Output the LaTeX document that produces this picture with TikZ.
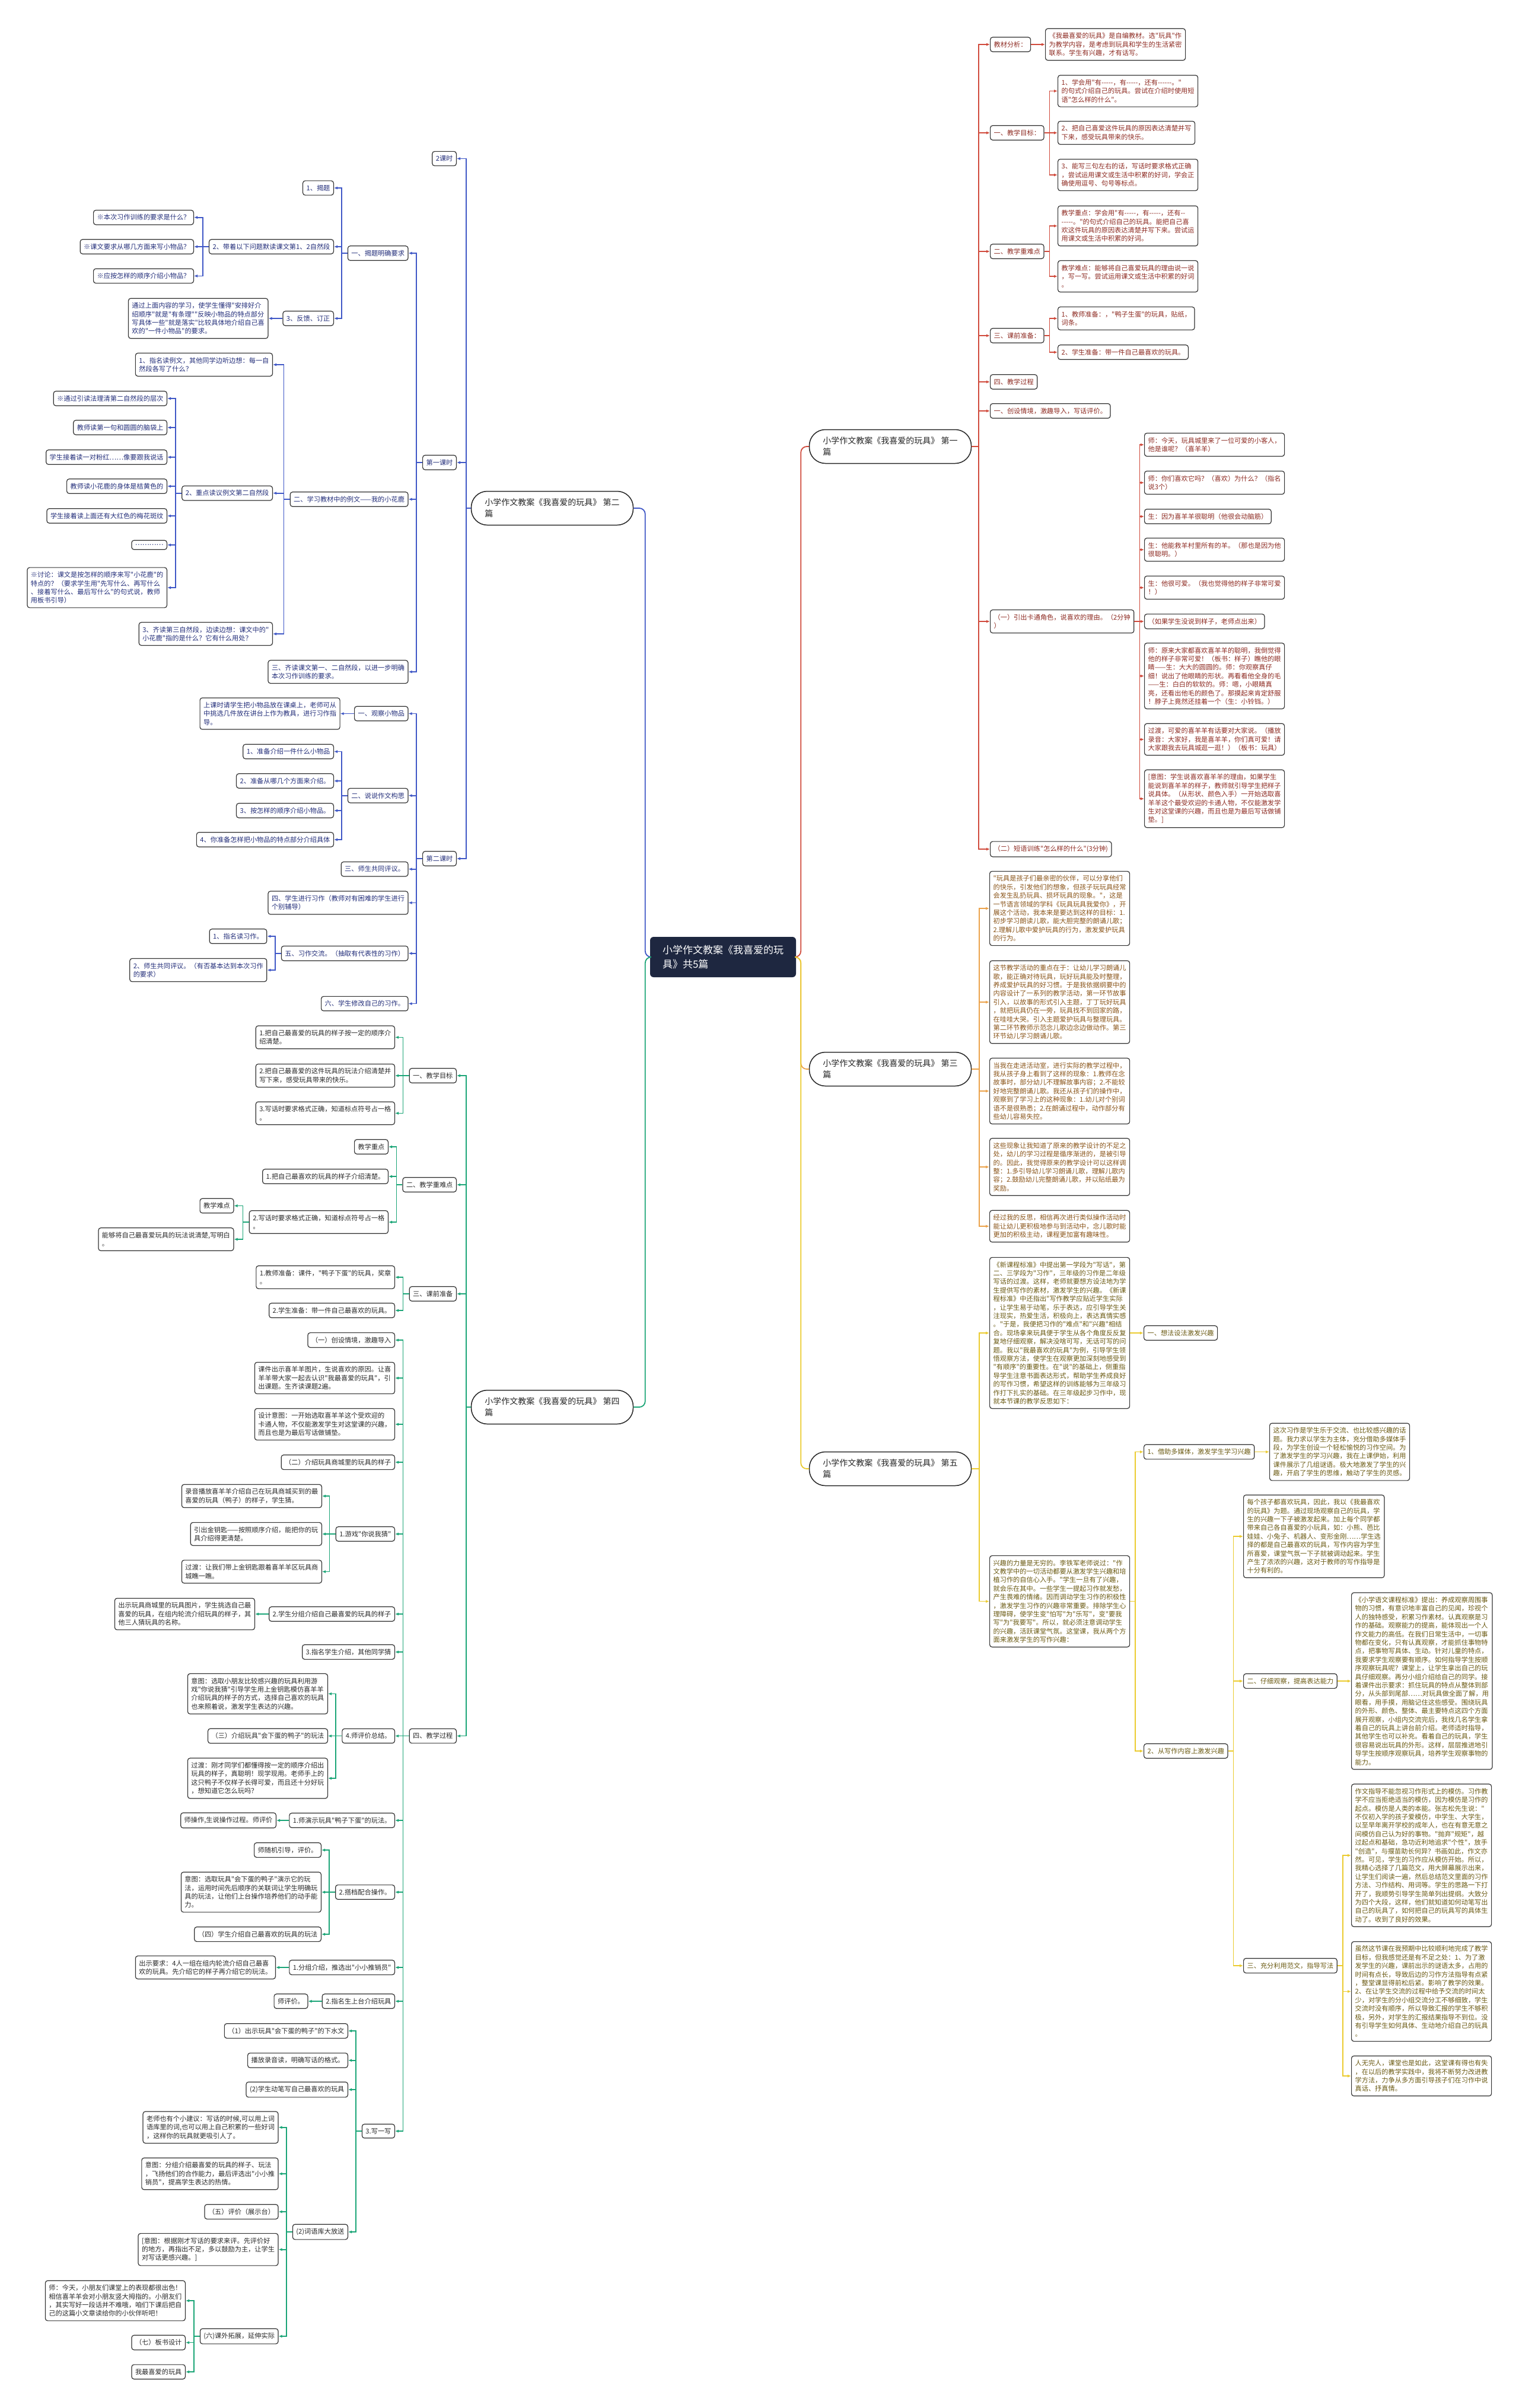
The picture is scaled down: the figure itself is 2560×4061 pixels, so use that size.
\documentclass[tikz,border=0pt]{standalone}
\usepackage{fontspec}
\newfontfamily\cjk{Noto Sans CJK SC}
\usetikzlibrary{positioning,arrows.meta}
\definecolor{rootfill}{HTML}{1E2740}
\definecolor{redline}{HTML}{D04A3C}
\definecolor{redtext}{HTML}{8E2B22}
\definecolor{blueline}{HTML}{3F57C6}
\definecolor{bluetext}{HTML}{232E7A}
\definecolor{orgline}{HTML}{EBA24A}
\definecolor{orgtext}{HTML}{8A5418}
\definecolor{grnline}{HTML}{1BA577}
\definecolor{grntext}{HTML}{2A2A2A}
\definecolor{ylwline}{HTML}{EBCB2F}
\definecolor{ylwtext}{HTML}{6B5A12}

\begin{document}
\begin{tikzpicture}[
  x=1pt, y=-1pt,
  tbox/.style={draw=black!80, line width=1.2pt, rounded corners=4pt, fill=white, align=left,
    inner xsep=6pt, inner ysep=7pt, font=\cjk\fontsize{11.2}{14.4}\selectfont},
  redbox/.style={tbox, text=redtext},
  bluebox/.style={tbox, text=bluetext},
  orgbox/.style={tbox, text=orgtext},
  grnbox/.style={tbox, text=grntext},
  ylwbox/.style={tbox, text=ylwtext},
  ln/.style={line width=1.6pt, -{Latex[length=6pt,width=5pt]}},
  redln/.style={ln, draw=redline},
  blueln/.style={ln, draw=blueline},
  orgln/.style={ln, draw=orgline},
  grnln/.style={ln, draw=grnline},
  ylwln/.style={ln, draw=ylwline},
  branchbox/.style={draw=black!85, line width=1.5pt, rounded corners=27pt, fill=white,
    minimum width=273pt, minimum height=57pt, align=left, text=black!85,
    font=\cjk\fontsize{14}{19}\selectfont},
  rootbox/.style={fill=rootfill, text=white, rounded corners=6pt, minimum width=246pt,
    minimum height=68pt, align=left, font=\cjk\fontsize{17}{24}\selectfont},
  trunk/.style={line width=1.8pt, rounded corners=10pt}
]
\fill[white] (0,0) rectangle (2560,4061);
\useasboundingbox (0,0) rectangle (2560,4061);

% centre and the five parts
\node[rootbox] (root) at (1219,1614) {小学作文教案《我喜爱的玩\\具》共5篇};
\node[branchbox] (p1) at (1501,753) {小学作文教案《我喜爱的玩具》 第一\\篇};
\node[branchbox] (p2) at (931,857) {小学作文教案《我喜爱的玩具》 第二\\篇};
\node[branchbox] (p3) at (1501,1803) {小学作文教案《我喜爱的玩具》 第三\\篇};
\node[branchbox] (p4) at (931,2373) {小学作文教案《我喜爱的玩具》 第四\\篇};
\node[branchbox] (p5) at (1501,2477) {小学作文教案《我喜爱的玩具》 第五\\篇};
\draw[trunk, draw=redline] (root.east) -- ++(8,0) |- (p1.west);
\draw[trunk, draw=orgline] (root.east) -- ++(8,0) |- (p3.west);
\draw[trunk, draw=ylwline] (root.east) -- ++(8,0) |- (p5.west);
\draw[trunk, draw=blueline] (root.west) -- ++(-8,0) |- (p2.east);
\draw[trunk, draw=grnline] (root.west) -- ++(-8,0) |- (p4.east);

% part one
\node[redbox, anchor=west] (p1a) at (1669,75) {教材分析：};
\node[redbox, anchor=west] (p1a1) at (1762,75) {《我最喜爱的玩具》是自编教材。选"玩具"作\\为教学内容，是考虑到玩具和学生的生活紧密\\联系。学生有兴趣，才有话写。};
\node[redbox, anchor=west] (p1b) at (1669,224) {一、教学目标：};
\node[redbox, anchor=west] (p1b1) at (1783,153.5) {1、学会用"有-----，有-----，还有------。"\\的句式介绍自己的玩具。尝试在介绍时使用短\\语"怎么样的什么"。};
\node[redbox, anchor=west] (p1b2) at (1783,224) {2、把自己喜爱这件玩具的原因表达清楚并写\\下来，感受玩具带来的快乐。};
\node[redbox, anchor=west] (p1b3) at (1783,295) {3、能写三句左右的话，写话时要求格式正确\\，尝试运用课文或生活中积累的好词，学会正\\确使用逗号、句号等标点。};
\node[redbox, anchor=west] (p1c) at (1669,424) {二、教学重难点};
\node[redbox, anchor=west] (p1c1) at (1783,381) {教学重点：学会用"有-----，有-----，还有--\\-----。"的句式介绍自己的玩具。能把自己喜\\欢这件玩具的原因表达清楚并写下来。尝试运\\用课文或生活中积累的好词。};
\node[redbox, anchor=west] (p1c2) at (1783,466) {教学难点：能够将自己喜爱玩具的理由说一说\\，写一写。尝试运用课文或生活中积累的好词\\。};
\node[redbox, anchor=west] (p1d) at (1669,566) {三、课前准备：};
\node[redbox, anchor=west] (p1d1) at (1783,537) {1、教师准备：，"鸭子生蛋"的玩具，贴纸，\\词条。};
\node[redbox, anchor=west] (p1d2) at (1783,594) {2、学生准备：带一件自己最喜欢的玩具。};
\node[redbox, anchor=west] (p1e) at (1669,644) {四、教学过程};
\node[redbox, anchor=west] (p1f) at (1669,693) {一、创设情境，激趣导入，写话评价。};
\node[redbox, anchor=west] (p1g) at (1669,1048) {（一）引出卡通角色，说喜欢的理由。（2分钟\\）};
\node[redbox, anchor=west] (p1g1) at (1929,750) {师：今天，玩具城里来了一位可爱的小客人，\\他是谁呢？（喜羊羊）};
\node[redbox, anchor=west] (p1g2) at (1929,814) {师：你们喜欢它吗？（喜欢）为什么？（指名\\说3个）};
\node[redbox, anchor=west] (p1g3) at (1929,871) {生：因为喜羊羊很聪明（他很会动脑筋）};
\node[redbox, anchor=west] (p1g4) at (1929,927) {生：他能救羊村里所有的羊。（那也是因为他\\很聪明。）};
\node[redbox, anchor=west] (p1g5) at (1929,991) {生：他很可爱。（我也觉得他的样子非常可爱\\！）};
\node[redbox, anchor=west] (p1g6) at (1929,1048) {（如果学生没说到样子，老师点出来）};
\node[redbox, anchor=west] (p1g7) at (1929,1140) {师：原来大家都喜欢喜羊羊的聪明，我倒觉得\\他的样子非常可爱！（板书：样子）瞧他的眼\\睛——生：大大的圆圆的。师：你观察真仔\\细！说出了他眼睛的形状。再看看他全身的毛\\——生：白白的软软的。师：嗯，小眼睛真\\亮，还看出他毛的颜色了。那摸起来肯定舒服\\！脖子上竟然还挂着一个（生：小铃铛。）};
\node[redbox, anchor=west] (p1g8) at (1929,1247) {过渡，可爱的喜羊羊有话要对大家说。（播放\\录音：大家好，我是喜羊羊，你们真可爱！请\\大家跟我去玩具城逛一逛！）（板书：玩具）};
\node[redbox, anchor=west] (p1g9) at (1929,1347) {[意图：学生说喜欢喜羊羊的理由，如果学生\\能说到喜羊羊的样子，教师就引导学生把样子\\说具体。（从形状、颜色入手）一开始选取喜\\羊羊这个最受欢迎的卡通人物，不仅能激发学\\生对这堂课的兴趣，而且也是为最后写话做铺\\垫。]};
\node[redbox, anchor=west] (p1h) at (1669,1432) {（二）短语训练"怎么样的什么"(3分钟)};
\foreach \c in {p1a,p1b,p1c,p1d,p1e,p1f,p1g,p1h}
  \draw[redln] (p1.east) -- ++(12,0) |- (\c.west);
\draw[redln] (p1a.east) -- (p1a1.west);
\foreach \c in {p1b1,p1b2,p1b3} \draw[redln] (p1b.east) -- ++(9,0) |- (\c.west);
\foreach \c in {p1c1,p1c2} \draw[redln] (p1c.east) -- ++(9,0) |- (\c.west);
\foreach \c in {p1d1,p1d2} \draw[redln] (p1d.east) -- ++(9,0) |- (\c.west);
\foreach \c in {p1g1,p1g2,p1g3,p1g4,p1g5,p1g6,p1g7,p1g8,p1g9}
  \draw[redln] (p1g.east) -- ++(9,0) |- (\c.west);

% part three
\node[orgbox, anchor=west] (p3a) at (1668,1532) {"玩具是孩子们最亲密的伙伴，可以分享他们\\的快乐，引发他们的想象，但孩子玩玩具经常\\会发生乱扔玩具、损坏玩具的现象。"，这是\\一节语言领域的学科《玩具玩具我爱你》，开\\展这个活动，我本来是要达到这样的目标：1.\\初步学习朗读儿歌，能大胆完整的朗诵儿歌；\\2.理解儿歌中爱护玩具的行为，激发爱护玩具\\的行为。};
\node[orgbox, anchor=west] (p3b) at (1668,1690) {这节教学活动的重点在于：让幼儿学习朗诵儿\\歌，能正确对待玩具，玩好玩具能及时整理，\\养成爱护玩具的好习惯。于是我依据纲要中的\\内容设计了一系列的教学活动，第一环节故事\\引入，以故事的形式引入主题，丁丁玩好玩具\\，就把玩具仍在一旁，玩具找不到回家的路，\\在哇哇大哭。引入主题爱护玩具与整理玩具。\\第二环节教师示范念儿歌边念边做动作。第三\\环节幼儿学习朗诵儿歌。};
\node[orgbox, anchor=west] (p3c) at (1668,1840) {当我在走进活动室，进行实际的教学过程中，\\我从孩子身上看到了这样的现象：1.教师在念\\故事时，部分幼儿不理解故事内容；2.不能较\\好地完整朗诵儿歌。我还从孩子们的操作中，\\观察到了学习上的这种现象：1.幼儿对个别词\\语不是很熟悉；2.在朗诵过程中，动作部分有\\些幼儿容易失控。};
\node[orgbox, anchor=west] (p3d) at (1668,1968) {这些现象让我知道了原来的教学设计的不足之\\处，幼儿的学习过程是循序渐进的，是被引导\\的。因此，我觉得原来的教学设计可以这样调\\整：1.多引导幼儿学习朗诵儿歌，理解儿歌内\\容；2.鼓励幼儿完整朗诵儿歌，并以贴纸最为\\奖励。};
\node[orgbox, anchor=west] (p3e) at (1668,2068) {经过我的反思，相信再次进行类似操作活动时\\能让幼儿更积极地参与到活动中，念儿歌时能\\更加的积极主动，课程更加富有趣味性。};
\foreach \c in {p3a,p3b,p3c,p3d,p3e}
  \draw[orgln] (p3.east) -- ++(13,0) |- (\c.west);

% part five
\node[ylwbox, anchor=west] (p5a) at (1668,2248) {《新课程标准》中提出第一学段为"写话"，第\\二、三学段为"习作"，三年级的习作是二年级\\写话的过渡。这样，老师就要想方设法地为学\\生提供写作的素材，激发学生的兴趣。《新课\\程标准》中还指出"写作教学应贴近学生实际\\，让学生易于动笔，乐于表达，应引导学生关\\注现实，热爱生活，积极向上，表达真情实感\\。"于是，我便把习作的"难点"和"兴趣"相结\\合。现场拿来玩具便于学生从各个角度反反复\\复地仔细观察，解决没啥可写，无话可写的问\\题。我以"我最喜欢的玩具"为例，引导学生领\\悟观察方法，使学生在观察更加深刻地感受到\\"有顺序"的重要性。在"说"的基础上，侧重指\\导学生注意书面表达形式，帮助学生养成良好\\的写作习惯，希望这样的训练能够为三年级习\\作打下扎实的基础。在三年级起步习作中，现\\就本节课的教学反思如下：};
\node[ylwbox, anchor=west] (p5a1) at (1928,2248) {一、想法设法激发兴趣};
\node[ylwbox, anchor=west] (p5b) at (1668,2700.6) {兴趣的力量是无穷的。李铁军老师说过："作\\文教学中的一切活动都要从激发学生兴趣和培\\植习作的自信心入手。"学生一旦有了兴趣，\\就会乐在其中。一些学生一提起习作就发愁，\\产生畏难的情绪。因而调动学生习作的积极性\\，激发学生习作的兴趣非常重要。排除学生心\\理障碍，使学生变"怕写"为"乐写"，变"要我\\写"为"我要写"。所以，就必须注意调动学生\\的兴趣，活跃课堂气氛。这堂课，我从两个方\\面来激发学生的写作兴趣：};
\node[ylwbox, anchor=west] (p5b1) at (1928,2448.5) {1、借助多媒体，激发学生学习兴趣};
\node[ylwbox, anchor=west] (p5b1a) at (2140,2448.5) {这次习作是学生乐于交流、也比较感兴趣的话\\题。我力求以学生为主体，充分借助多媒体手\\段，为学生创设一个轻松愉悦的习作空间。为\\了激发学生的学习兴趣，我在上课伊始，利用\\课件展示了几组谜语。极大地激发了学生的兴\\趣，开启了学生的思维，触动了学生的灵感。};
\node[ylwbox, anchor=west] (p5b2) at (1928,2953) {2、从写作内容上激发兴趣};
\node[ylwbox, anchor=west] (p5b2a) at (2096,2591) {每个孩子都喜欢玩具，因此，我以《我最喜欢\\的玩具》为题。通过现场观察自己的玩具，学\\生的兴趣一下子被激发起来。加上每个同学都\\带来自己各自喜爱的小玩具，如：小熊、芭比\\娃娃、小兔子、机器人、变形金刚……学生选\\择的都是自己最喜欢的玩具，写作内容为学生\\所喜爱，课堂气氛一下子就被调动起来。学生\\产生了浓浓的兴趣，这对于教师的写作指导是\\十分有利的。};
\node[ylwbox, anchor=west] (p5b2b) at (2096,2835) {二、仔细观察，提高表达能力};
\node[ylwbox, anchor=west] (p5b2b1) at (2278,2835) {《小学语文课程标准》提出：养成观察周围事\\物的习惯，有意识地丰富自己的见闻，珍视个\\人的独特感受，积累习作素材。认真观察是习\\作的基础。观察能力的提高，能体现出一个人\\作文能力的高低。在我们日常生活中，一切事\\物都在变化，只有认真观察，才能抓住事物特\\点，把事物写具体、生动。针对儿童的特点，\\我要求学生观察要有顺序。如何指导学生按顺\\序观察玩具呢？课堂上，让学生拿出自己的玩\\具仔细观察。再分小组介绍给自己的同学。接\\着课件出示要求：抓住玩具的特点从整体到部\\分，从头部到尾部……对玩具做全面了解，用\\眼看，用手摸，用脑记住这些感受。围绕玩具\\的外形、颜色、整体、最主要特点这四个方面\\展开观察，小组内交流完后，我找几名学生拿\\着自己的玩具上讲台前介绍。老师适时指导，\\其他学生也可以补充。看着自己的玩具，学生\\很容易说出玩具的外形。这样，层层推进地引\\导学生按顺序观察玩具，培养学生观察事物的\\能力。};
\node[ylwbox, anchor=west] (p5b2c) at (2096,3315) {三、充分利用范文，指导写法};
\node[ylwbox, anchor=west] (p5b2c1) at (2278,3129) {作文指导不能忽视习作形式上的模仿。习作教\\学不应当拒绝适当的模仿，因为模仿是习作的\\起点。模仿是人类的本能。张志松先生说："\\不仅初入学的孩子爱模仿，中学生、大学生，\\以至早年离开学校的成年人，也在有意无意之\\间模仿自己认为好的事物。"抛弃"规矩"，越\\过起点和基础，急功近利地追求"个性"，放手\\"创造"，与揠苗助长何异？书画如此，作文亦\\然。可见，学生的习作应从模仿开始。所以，\\我精心选择了几篇范文，用大屏幕展示出来，\\让学生们阅读一遍，然后总结范文里面的习作\\方法、习作结构、用词等。学生的思路一下打\\开了，我顺势引导学生简单列出提纲。大致分\\为四个大段，这样，他们就知道如何动笔写出\\自己的玩具了，如何把自己的玩具写的具体生\\动了。收到了良好的效果。};
\node[ylwbox, anchor=west] (p5b2c2) at (2278,3358.5) {虽然这节课在我预期中比较顺利地完成了教学\\目标，但我感觉还是有不足之处：1、为了激\\发学生的兴趣，课前出示的谜语太多，占用的\\时间有点长，导致后边的习作方法指导有点紧\\，整堂课显得前松后紧。影响了教学的效果。\\2、在让学生交流的过程中给予交流的时间太\\少，对学生的分小组交流分工不够细致，学生\\交流时没有顺序，所以导致汇报的学生不够积\\极，另外，对学生的汇报结果指导不到位。没\\有引导学生如何具体、生动地介绍自己的玩具\\。};
\node[ylwbox, anchor=west] (p5b2c3) at (2278,3501) {人无完人，课堂也是如此，这堂课有得也有失\\，在以后的教学实践中，我将不断努力改进教\\学方法，力争从多方面引导孩子们在习作中说\\真话、抒真情。};
\foreach \c in {p5a,p5b} \draw[ylwln] (p5.east) -- ++(13,0) |- (\c.west);
\draw[ylwln] (p5a.east) -- (p5a1.west);
\foreach \c in {p5b1,p5b2} \draw[ylwln] (p5b.east) -- ++(9,0) |- (\c.west);
\draw[ylwln] (p5b1.east) -- (p5b1a.west);
\foreach \c in {p5b2a,p5b2b,p5b2c} \draw[ylwln] (p5b2.east) -- ++(9,0) |- (\c.west);
\draw[ylwln] (p5b2b.east) -- (p5b2b1.west);
\foreach \c in {p5b2c1,p5b2c2,p5b2c3} \draw[ylwln] (p5b2c.east) -- ++(9,0) |- (\c.west);

% part two
\node[bluebox, anchor=east] (p2a) at (770,267.5) {2课时};
\node[bluebox, anchor=east] (p2b) at (770,780) {第一课时};
\node[bluebox, anchor=east] (p2c) at (770,1448) {第二课时};
\node[bluebox, anchor=east] (p2b1) at (688.6,427) {一、揭题明确要求};
\node[bluebox, anchor=east] (p2b1a) at (563,317) {1、揭题};
\node[bluebox, anchor=east] (p2b1b) at (563,416) {2、带着以下问题默读课文第1、2自然段};
\node[bluebox, anchor=east] (p2b1b1) at (327,366.7) {※本次习作训练的要求是什么？};
\node[bluebox, anchor=east] (p2b1b2) at (327,416) {※课文要求从哪几方面来写小物品？};
\node[bluebox, anchor=east] (p2b1b3) at (327,465.4) {※应按怎样的顺序介绍小物品？};
\node[bluebox, anchor=east] (p2b1c) at (563,537) {3、反馈、订正};
\node[bluebox, anchor=east] (p2b1c1) at (452.5,537) {通过上面内容的学习，使学生懂得"安排好介\\绍顺序"就是"有条理""反映小物品的特点部分\\写具体一些"就是落实"比较具体地介绍自己喜\\欢的"一件小物品"的要求。};
\node[bluebox, anchor=east] (p2b2) at (688.6,842) {二、学习教材中的例文——我的小花鹿};
\node[bluebox, anchor=east] (p2b2a) at (460,615) {1、指名读例文，其他同学边听边想：每一自\\然段各写了什么？};
\node[bluebox, anchor=east] (p2b2b) at (460,831.7) {2、重点读议例文第二自然段};
\node[bluebox, anchor=east] (p2b2b1) at (282,672) {※通过引读法理清第二自然段的层次};
\node[bluebox, anchor=east] (p2b2b2) at (282,721) {教师读第一句和圆圆的脑袋上};
\node[bluebox, anchor=east] (p2b2b3) at (282,771) {学生接着读一对粉红……像要跟我说话};
\node[bluebox, anchor=east] (p2b2b4) at (282,820) {教师读小花鹿的身体是桔黄色的};
\node[bluebox, anchor=east] (p2b2b5) at (282,870) {学生接着读上面还有大红色的梅花斑纹};
\node[bluebox, anchor=east] (p2b2b6) at (282,919) {…………};
\node[bluebox, anchor=east] (p2b2b7) at (282,991) {※讨论：课文是按怎样的顺序来写"小花鹿"的\\特点的？（要求学生用"先写什么、再写什么\\、接着写什么、最后写什么"的句式说，教师\\用板书引导）};
\node[bluebox, anchor=east] (p2b2c) at (460,1069) {3、齐读第三自然段，边读边想：课文中的"\\小花鹿"指的是什么？它有什么用处？};
\node[bluebox, anchor=east] (p2b3) at (688.6,1133) {三、齐读课文第一、二自然段，以进一步明确\\本次习作训练的要求。};
\node[bluebox, anchor=east] (p2c1) at (688.6,1203.5) {一、观察小物品};
\node[bluebox, anchor=east] (p2c1a) at (573.7,1203.5) {上课时请学生把小物品放在课桌上，老师可从\\中挑选几件放在讲台上作为教具，进行习作指\\导。};
\node[bluebox, anchor=east] (p2c2) at (688.6,1341.7) {二、说说作文构思};
\node[bluebox, anchor=east] (p2c2a) at (563,1267.5) {1、准备介绍一件什么小物品};
\node[bluebox, anchor=east] (p2c2b) at (563,1317) {2、准备从哪几个方面来介绍。};
\node[bluebox, anchor=east] (p2c2c) at (563,1367) {3、按怎样的顺序介绍小物品。};
\node[bluebox, anchor=east] (p2c2d) at (563,1416) {4、你准备怎样把小物品的特点部分介绍具体};
\node[bluebox, anchor=east] (p2c3) at (688.6,1465.7) {三、师生共同评议。};
\node[bluebox, anchor=east] (p2c4) at (688.6,1522.5) {四、学生进行习作（教师对有困难的学生进行\\个别辅导）};
\node[bluebox, anchor=east] (p2c5) at (688.6,1607.8) {五、习作交流。（抽取有代表性的习作）};
\node[bluebox, anchor=east] (p2c5a) at (450.4,1579) {1、指名读习作。};
\node[bluebox, anchor=east] (p2c5b) at (450.4,1636) {2、师生共同评议。（有否基本达到本次习作\\的要求）};
\node[bluebox, anchor=east] (p2c6) at (688.6,1692.6) {六、学生修改自己的习作。};
\foreach \c in {p2a,p2b,p2c} \draw[blueln] (p2.west) -- ++(-8,0) |- (\c.east);
\foreach \c in {p2b1,p2b2,p2b3} \draw[blueln] (p2b.west) -- ++(-10,0) |- (\c.east);
\foreach \c in {p2b1a,p2b1b,p2b1c} \draw[blueln] (p2b1.west) -- ++(-10,0) |- (\c.east);
\foreach \c in {p2b1b1,p2b1b2,p2b1b3} \draw[blueln] (p2b1b.west) -- ++(-10,0) |- (\c.east);
\draw[blueln] (p2b1c.west) -- (p2b1c1.east);
\foreach \c in {p2b2a,p2b2b,p2b2c} \draw[blueln] (p2b2.west) -- ++(-10,0) |- (\c.east);
\foreach \c in {p2b2b1,p2b2b2,p2b2b3,p2b2b4,p2b2b5,p2b2b6,p2b2b7}
  \draw[blueln] (p2b2b.west) -- ++(-10,0) |- (\c.east);
\foreach \c in {p2c1,p2c2,p2c3,p2c4,p2c5,p2c6} \draw[blueln] (p2c.west) -- ++(-10,0) |- (\c.east);
\draw[blueln] (p2c1.west) -- (p2c1a.east);
\foreach \c in {p2c2a,p2c2b,p2c2c,p2c2d} \draw[blueln] (p2c2.west) -- ++(-10,0) |- (\c.east);
\foreach \c in {p2c5a,p2c5b} \draw[blueln] (p2c5.west) -- ++(-10,0) |- (\c.east);

% part four
\node[grnbox, anchor=east] (p4a) at (770,1814) {一、教学目标};
\node[grnbox, anchor=east] (p4a1) at (666,1749.4) {1.把自己最喜爱的玩具的样子按一定的顺序介\\绍清楚。};
\node[grnbox, anchor=east] (p4a2) at (666,1814) {2.把自己最喜爱的这件玩具的玩法介绍清楚并\\写下来，感受玩具带来的快乐。};
\node[grnbox, anchor=east] (p4a3) at (666,1877.4) {3.写话时要求格式正确，知道标点符号占一格\\。};
\node[grnbox, anchor=east] (p4b) at (770,1998) {二、教学重难点};
\node[grnbox, anchor=east] (p4b1) at (655,1934) {教学重点};
\node[grnbox, anchor=east] (p4b2) at (655,1984) {1.把自己最喜欢的玩具的样子介绍清楚。};
\node[grnbox, anchor=east] (p4b3) at (655,2061) {2.写话时要求格式正确，知道标点符号占一格\\。};
\node[grnbox, anchor=east] (p4b3a) at (394.5,2033.5) {教学难点};
\node[grnbox, anchor=east] (p4b3b) at (394.5,2090) {能够将自己最喜爱玩具的玩法说清楚,写明白\\。};
\node[grnbox, anchor=east] (p4c) at (770,2182) {三、课前准备};
\node[grnbox, anchor=east] (p4c1) at (666,2154) {1.教师准备：课件，"鸭子下蛋"的玩具，奖章\\。};
\node[grnbox, anchor=east] (p4c2) at (666,2210) {2.学生准备：带一件自己最喜欢的玩具。};
\node[grnbox, anchor=east] (p4d) at (770,2927.6) {四、教学过程};
\node[grnbox, anchor=east] (p4d1) at (666,2260) {（一）创设情境，激趣导入};
\node[grnbox, anchor=east] (p4d2) at (666,2324) {课件出示喜羊羊图片，生说喜欢的原因。让喜\\羊羊带大家一起去认识"我最喜爱的玩具"，引\\出课题。生齐读课题2遍。};
\node[grnbox, anchor=east] (p4d3) at (666,2402) {设计意图：一开始选取喜羊羊这个受欢迎的\\卡通人物，不仅能激发学生对这堂课的兴趣，\\而且也是为最后写话做铺垫。};
\node[grnbox, anchor=east] (p4d4) at (666,2466) {（二）介绍玩具商城里的玩具的样子};
\node[grnbox, anchor=east] (p4d5) at (666,2587) {1.游戏"你说我猜"};
\node[grnbox, anchor=east] (p4d5a) at (543,2523) {录音播放喜羊羊介绍自己在玩具商城买到的最\\喜爱的玩具（鸭子）的样子，学生猜。};
\node[grnbox, anchor=east] (p4d5b) at (543,2587) {引出金钥匙——按照顺序介绍，能把你的玩\\具介绍得更清楚。};
\node[grnbox, anchor=east] (p4d5c) at (543,2650.5) {过渡：让我们带上金钥匙跟着喜羊羊区玩具商\\城瞧一瞧。};
\node[grnbox, anchor=east] (p4d6) at (666,2722) {2.学生分组介绍自己最喜爱的玩具的样子};
\node[grnbox, anchor=east] (p4d6a) at (430,2722) {出示玩具商城里的玩具图片，学生挑选自己最\\喜爱的玩具，在组内轮流介绍玩具的样子，其\\他三人猜玩具的名称。};
\node[grnbox, anchor=east] (p4d7) at (666,2786) {3.指名学生介绍，其他同学猜};
\node[grnbox, anchor=east] (p4d8) at (666,2927.6) {4.师评价总结。};
\node[grnbox, anchor=east] (p4d8a) at (553,2856.5) {意图：选取小朋友比较感兴趣的玩具利用游\\戏"你说我猜"引导学生用上金钥匙模仿喜羊羊\\介绍玩具的样子的方式，选择自己喜欢的玩具\\也来照着说，激发学生表达的兴趣。};
\node[grnbox, anchor=east] (p4d8b) at (553,2927.6) {（三）介绍玩具"会下蛋的鸭子"的玩法};
\node[grnbox, anchor=east] (p4d8c) at (553,2999) {过渡：刚才同学们都懂得按一定的顺序介绍出\\玩具的样子，真聪明！现学现用。老师手上的\\这只鸭子不仅样子长得可爱，而且还十分好玩\\，想知道它怎么玩吗？};
\node[grnbox, anchor=east] (p4d9) at (666,3070) {1.师演示玩具"鸭子下蛋"的玩法。};
\node[grnbox, anchor=east] (p4d9a) at (466,3070) {师操作,生说操作过程。师评价};
\node[grnbox, anchor=east] (p4d10) at (666,3191) {2.搭档配合操作。};
\node[grnbox, anchor=east] (p4d10a) at (542,3120) {师随机引导，评价。};
\node[grnbox, anchor=east] (p4d10b) at (542,3191) {意图：选取玩具"会下蛋的鸭子"演示它的玩\\法，运用时间先后顺序的关联词让学生明确玩\\具的玩法，让他们上台操作培养他们的动手能\\力。};
\node[grnbox, anchor=east] (p4d10c) at (542,3262) {（四）学生介绍自己最喜欢的玩具的玩法};
\node[grnbox, anchor=east] (p4d11) at (666,3318) {1.分组介绍，推选出"小小推销员"};
\node[grnbox, anchor=east] (p4d11a) at (465,3318) {出示要求：4人一组在组内轮流介绍自己最喜\\欢的玩具。先介绍它的样子再介绍它的玩法。};
\node[grnbox, anchor=east] (p4d12) at (666,3375) {2.指名生上台介绍玩具};
\node[grnbox, anchor=east] (p4d12a) at (519.5,3375) {师评价。};
\node[grnbox, anchor=east] (p4d13) at (666,3594) {3.写一写};
\node[grnbox, anchor=east] (p4d13a) at (587,3425) {（1）出示玩具"会下蛋的鸭子"的下水文};
\node[grnbox, anchor=east] (p4d13b) at (587,3474.7) {播放录音读，明确写话的格式。};
\node[grnbox, anchor=east] (p4d13c) at (587,3524) {(2)学生动笔写自己最喜欢的玩具};
\node[grnbox, anchor=east] (p4d13d) at (587,3764) {(2)词语库大放送};
\node[grnbox, anchor=east] (p4e1) at (469.6,3587.7) {老师也有个小建议：写话的时候,可以用上词\\语库里的词,也可以用上自己积累的一些好词\\，这样你的玩具就更吸引人了。};
\node[grnbox, anchor=east] (p4e2) at (469.6,3666) {意图：分组介绍最喜爱的玩具的样子、玩法\\，飞扬他们的合作能力，最后评选出"小小推\\销员"，提高学生表达的热情。};
\node[grnbox, anchor=east] (p4e3) at (469.6,3730) {（五）评价（展示台）};
\node[grnbox, anchor=east] (p4e4) at (469.6,3793.7) {[意图：根据刚才写话的要求来评。先评价好\\的地方，再指出不足，多以鼓励为主，让学生\\对写话更感兴趣。]};
\node[grnbox, anchor=east] (p4e5) at (469.6,3940) {(六)课外拓展，延伸实际};
\node[grnbox, anchor=east] (p4f1) at (313,3880) {师：今天，小朋友们课堂上的表现都很出色！\\相信喜羊羊会对小朋友竖大拇指的。小朋友们\\，其实写好一段话并不难哦，咱们下课后把自\\己的这篇小文章读给你的小伙伴听吧！};
\node[grnbox, anchor=east] (p4f2) at (313,3950.6) {（七）板书设计};
\node[grnbox, anchor=east] (p4f3) at (313,4000) {我最喜爱的玩具};
\foreach \c in {p4a,p4b,p4c,p4d} \draw[grnln] (p4.west) -- ++(-8,0) |- (\c.east);
\foreach \c in {p4a1,p4a2,p4a3} \draw[grnln] (p4a.west) -- ++(-10,0) |- (\c.east);
\foreach \c in {p4b1,p4b2,p4b3} \draw[grnln] (p4b.west) -- ++(-10,0) |- (\c.east);
\foreach \c in {p4b3a,p4b3b} \draw[grnln] (p4b3.west) -- ++(-10,0) |- (\c.east);
\foreach \c in {p4c1,p4c2} \draw[grnln] (p4c.west) -- ++(-10,0) |- (\c.east);
\foreach \c in {p4d1,p4d2,p4d3,p4d4,p4d5,p4d6,p4d7,p4d8,p4d9,p4d10,p4d11,p4d12,p4d13}
  \draw[grnln] (p4d.west) -- ++(-10,0) |- (\c.east);
\foreach \c in {p4d5a,p4d5b,p4d5c} \draw[grnln] (p4d5.west) -- ++(-10,0) |- (\c.east);
\draw[grnln] (p4d6.west) -- (p4d6a.east);
\foreach \c in {p4d8a,p4d8b,p4d8c} \draw[grnln] (p4d8.west) -- ++(-10,0) |- (\c.east);
\draw[grnln] (p4d9.west) -- (p4d9a.east);
\foreach \c in {p4d10a,p4d10b,p4d10c} \draw[grnln] (p4d10.west) -- ++(-10,0) |- (\c.east);
\draw[grnln] (p4d11.west) -- (p4d11a.east);
\draw[grnln] (p4d12.west) -- (p4d12a.east);
\foreach \c in {p4d13a,p4d13b,p4d13c,p4d13d} \draw[grnln] (p4d13.west) -- ++(-10,0) |- (\c.east);
\foreach \c in {p4e1,p4e2,p4e3,p4e4,p4e5} \draw[grnln] (p4d13d.west) -- ++(-10,0) |- (\c.east);
\foreach \c in {p4f1,p4f2,p4f3} \draw[grnln] (p4e5.west) -- ++(-10,0) |- (\c.east);
\end{tikzpicture}
\end{document}
